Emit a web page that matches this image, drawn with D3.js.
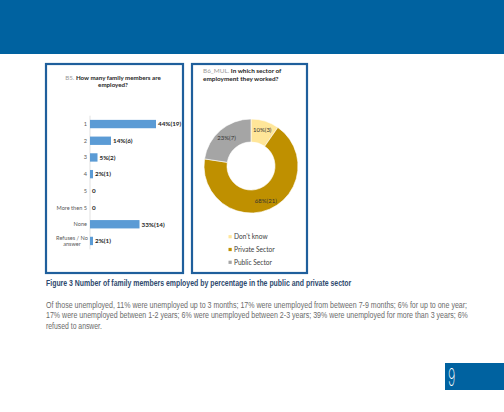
<!DOCTYPE html>
<html><head><meta charset="utf-8">
<script src="https://cdn.jsdelivr.net/npm/d3@7"></script>
<style>body{margin:0;background:#fff}svg{display:block}</style>
</head><body>
<script>
const barCategories = ["1","2","3","4","5","More then 5","None","Refuses / No answer"];
const barPercents = [44,14,5,2,0,0,33,2];
const barCounts = [19,6,2,1,0,0,14,1];
const sectorLabels = ["Don't know","Private Sector","Public Sector"];
const sectorCounts = [3,21,7];
const sectorPercents = [10,68,23];
const sectorColors = ["#FFE699","#BF9000","#A5A5A5"];
const captionText = "Figure 3 Number of family members employed by percentage in the public and private sector";
const bodyLines = [
 "Of those unemployed, 11% were unemployed up to 3 months; 17% were unemployed from between 7-9 months; 6% for up to one year;",
 "17% were unemployed between 1-2 years; 6% were unemployed between 2-3 years; 39% were unemployed for more than 3 years; 6%",
 "refused to answer."
];
const pageNumber = "9";

const W=504,H=412;
const svg=d3.select("body").append("svg").attr("width",W).attr("height",H);
const blue="#0062A0";
const calibri="Lato,'Open Sans',sans-serif";
const cond="'Liberation Sans',Arial,sans-serif";

// draw text condensed horizontally to a target width
function condensed(x0,y0,txt,size,target,attrs){
  const g=svg.append("g").attr("transform",`translate(${x0},${y0})`);
  const t=g.append("text").attr("x",0).attr("y",0).attr("font-family",cond).attr("font-size",size).text(txt);
  Object.entries(attrs).forEach(([k,v])=>t.attr(k,v));
  const len=t.node().getComputedTextLength();
  if(len>0) g.attr("transform",`translate(${x0},${y0}) scale(${target/len},1)`);
  return t;
}

// banner
svg.append("rect").attr("x",0).attr("y",0).attr("width",W).attr("height",54).attr("fill",blue);

// panel boxes
[[46,64,137,209],[192,64,115,209]].forEach(b=>{
  svg.append("rect").attr("x",b[0]).attr("y",b[1]).attr("width",b[2]).attr("height",b[3])
   .attr("fill","#fff").attr("stroke","#1F5F9C").attr("stroke-width",2.2);
});

// bar chart title
const t1=svg.append("text").attr("x",113).attr("y",79.5).attr("text-anchor","middle")
 .attr("font-family",calibri).attr("font-size",6.2);
t1.append("tspan").attr("fill","#9a9a9a").text("B5. ");
t1.append("tspan").attr("fill","#262626").attr("font-weight","bold").text("How many family members are");
svg.append("text").attr("x",113).attr("y",86.5).attr("text-anchor","middle")
 .attr("font-family",calibri).attr("font-size",6.2).attr("font-weight","bold").attr("fill","#262626").text("employed?");

// bars
const y=d3.scaleBand().domain(barCategories).range([115.7,249.3]).paddingInner(0.5).paddingOuter(0.25);
const x=d3.scaleLinear().domain([0,50]).range([90,165]);
const bg=svg.append("g");
bg.append("line").attr("x1",x(0)).attr("x2",x(0)).attr("y1",y.range()[0]).attr("y2",y.range()[1])
 .attr("stroke","#d9d9d9").attr("stroke-width",0.8);
barCategories.forEach((c,i)=>{
  const yc=y(c)+y.bandwidth()/2;
  bg.append("rect").attr("x",x(0)).attr("y",y(c)).attr("width",x(barPercents[i])-x(0)).attr("height",y.bandwidth()).attr("fill","#5B9BD5");
  bg.append("text").attr("x",x(barPercents[i])+2).attr("y",yc+2.3).attr("font-family",calibri).attr("font-size",6.3)
   .attr("font-weight","bold").attr("fill","#262626")
   .text(barPercents[i]===0?"0":barPercents[i]+"%("+barCounts[i]+")");
  if(c==="Refuses / No answer"){
    const tt=bg.append("text").attr("text-anchor","middle").attr("font-family",calibri).attr("font-size",5.6).attr("fill","#595959");
    tt.append("tspan").attr("x",72).attr("y",yc-0.8).text("Refuses / No");
    tt.append("tspan").attr("x",72).attr("y",yc+5.4).text("answer");
  } else {
    bg.append("text").attr("x",x(0)-3).attr("y",yc+2).attr("text-anchor","end").attr("font-family",calibri).attr("font-size",5.6).attr("fill","#595959").text(c);
  }
});

// donut title
const t2=svg.append("text").attr("x",203).attr("y",73).attr("font-family",calibri).attr("font-size",6.4);
t2.append("tspan").attr("fill","#9a9a9a").text("B6_MUL. ");
t2.append("tspan").attr("fill","#262626").attr("font-weight","bold").text("In which sector of");
svg.append("text").attr("x",203).attr("y",81).attr("font-family",calibri).attr("font-size",6.4).attr("font-weight","bold").attr("fill","#262626").text("employment they worked?");

// donut
const cx=251,cy=166,R=47,r=24;
const pie=d3.pie().sort(null).value(d=>d)(sectorCounts);
const arc=d3.arc().innerRadius(r).outerRadius(R);
const dg=svg.append("g").attr("transform",`translate(${cx},${cy})`);
dg.selectAll("path").data(pie).join("path").attr("d",arc).attr("fill",(d,i)=>sectorColors[i]).attr("stroke","#fff").attr("stroke-width",0.6);
const labArc=d3.arc().innerRadius((R+r)/2+2).outerRadius((R+r)/2+2);
dg.selectAll("text").data(pie).join("text")
 .attr("transform",d=>`translate(${labArc.centroid(d)})`).attr("text-anchor","middle").attr("dy","0.35em")
 .attr("font-family",calibri).attr("font-size",6).attr("fill","#333")
 .text((d,i)=>sectorPercents[i]+"%("+sectorCounts[i]+")");

// legend
sectorLabels.forEach((l,i)=>{
  const ly=236.7+i*12.8;
  svg.append("rect").attr("x",228.5).attr("y",ly-1.6).attr("width",3.2).attr("height",3.2).attr("fill",sectorColors[i]);
  svg.append("text").attr("x",234).attr("y",ly+2.3).attr("font-family",calibri).attr("font-size",6.6).attr("fill","#404040").text(l);
});

// caption
condensed(46,286,captionText,9,306,{"font-weight":"bold","fill":"#2E4A6E"});

// body
const bodyLens=[421,422,56];
bodyLines.forEach((l,i)=>{
  condensed(46,308+i*10.4,l,8.8,bodyLens[i],{"fill":"#6b6b6b"});
});

// page number
svg.append("rect").attr("x",445).attr("y",363).attr("width",59).attr("height",27).attr("fill",blue);
svg.append("text").attr("transform","translate(448,386) scale(0.5,1)").attr("font-family","Inter,Roboto,sans-serif").attr("font-weight",200).attr("font-size",25).attr("fill","#fff").text(pageNumber);
</script>
</body></html>
